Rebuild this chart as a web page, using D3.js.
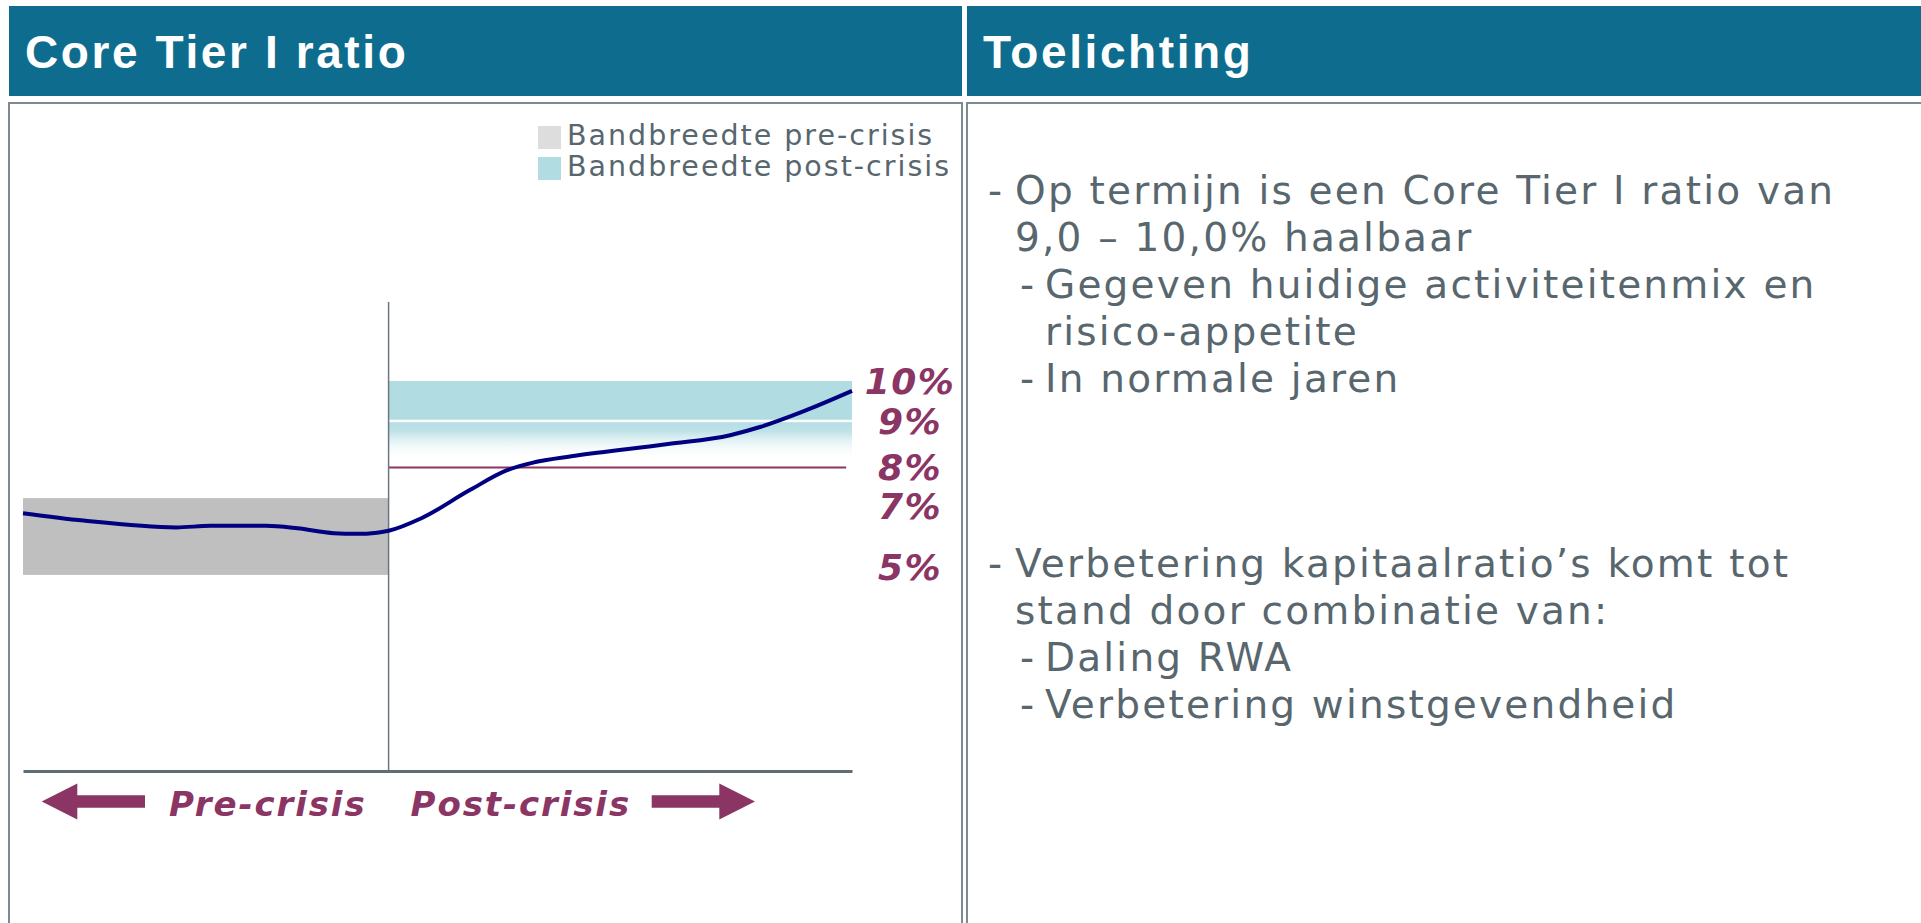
<!DOCTYPE html>
<html>
<head>
<meta charset="utf-8">
<script src="https://cdn.jsdelivr.net/npm/d3@7"></script>
<style>
  body { margin: 0; background: #fff; }
  svg { display: block; }
</style>
</head>
<body>
<svg id="chart" width="1921" height="923"></svg>
<script>
// ratio path, t = relative time (0..100), v = Core Tier I ratio in %
const periods = [0, 7.3, 18.5, 22.6, 29.3, 33.1, 37.5, 40.2, 42.7, 44.1, 48.0, 53.9, 58.4, 61.4, 66.6, 77.8, 85.3, 89.0, 94.2, 100]
const ratio = [6.76, 6.52, 6.30, 6.35, 6.35, 6.27, 6.11, 6.09, 6.13, 6.19, 6.59, 7.41, 7.93, 8.10, 8.25, 8.50, 8.69, 8.87, 9.24, 9.75]
const crisisT = 44.1
const preBand = [4.76, 7.2]
const postBand = [9, 10]
const postFade = [8.2, 9]
const minLine = 8
const minLineEnd = 99.3
const tickLabels = [10, 9, 8, 7, 5]
const legendLabels = ["Bandbreedte pre-crisis", "Bandbreedte post-crisis"]
const titles = ["Core Tier I ratio", "Toelichting"]
const notes1 = [
  { level: 0, dash: true, text: "Op termijn is een Core Tier I ratio van" },
  { level: 0, dash: false, text: "9,0 – 10,0% haalbaar" },
  { level: 1, dash: true, text: "Gegeven huidige activiteitenmix en" },
  { level: 1, dash: false, text: "risico-appetite" },
  { level: 1, dash: true, text: "In normale jaren" }
]
const notes2 = [
  { level: 0, dash: true, text: "Verbetering kapitaalratio’s komt tot" },
  { level: 0, dash: false, text: "stand door combinatie van:" },
  { level: 1, dash: true, text: "Daling RWA" },
  { level: 1, dash: true, text: "Verbetering winstgevendheid" }
]

const headerColor = "#0e6d8e"
const purple = "#8b3565"
const slate = "#58666e"
const border = "#7d8a91"

let svg = d3.select("#chart")

// gradient for the fading part of the post-crisis band
let defs = svg.append("defs")
let grad = defs.append("linearGradient")
  .attr("id", "fade").attr("x1", 0).attr("y1", 0).attr("x2", 0).attr("y2", 1)
grad.append("stop").attr("offset", "0%").attr("stop-color", "#b0dce2").attr("stop-opacity", 0.95)
grad.append("stop").attr("offset", "25%").attr("stop-color", "#b0dce2").attr("stop-opacity", 0.8)
grad.append("stop").attr("offset", "100%").attr("stop-color", "#ffffff").attr("stop-opacity", 0)

// headers
let headers = [{ x: 9, w: 953 }, { x: 967, w: 960 }]
svg.selectAll(".hdr")
  .data(headers)
  .enter()
  .append("rect")
  .attr("x", d => d.x).attr("y", 6)
  .attr("width", d => d.w).attr("height", 90)
  .attr("fill", headerColor)
svg.selectAll(".hdrText")
  .data(titles)
  .enter()
  .append("text")
  .attr("x", (d, i) => headers[i].x + 16)
  .attr("y", 68)
  .attr("fill", "#fff")
  .attr("font-family", "Liberation Sans, Arial, sans-serif")
  .attr("font-weight", "bold")
  .attr("font-size", "46px")
  .attr("letter-spacing", "2.6px")
  .text(d => d)

// panels
svg.selectAll(".panel")
  .data(headers)
  .enter()
  .append("rect")
  .attr("x", d => d.x).attr("y", 103)
  .attr("width", d => d.w).attr("height", 900)
  .attr("fill", "none")
  .attr("stroke", border)
  .attr("stroke-width", 2)

// scales
let x = d3.scaleLinear().domain([0, 100]).range([23, 852])
let y = d3.scaleLinear().domain([5, 7, 8, 9, 10]).range([567.5, 505.8, 467.5, 420.7, 381])
let plotTop = 302
let plotBottom = 771

let pane = svg.append("g")

// pre-crisis band
pane.append("rect")
  .attr("x", x(0)).attr("y", y(preBand[1]))
  .attr("width", x(crisisT) - x(0))
  .attr("height", y(preBand[0]) - y(preBand[1]))
  .attr("fill", "#bfbfbf")

// post-crisis band
pane.append("rect")
  .attr("x", x(crisisT)).attr("y", y(postBand[1]))
  .attr("width", x(100) - x(crisisT))
  .attr("height", y(postBand[0]) - y(postBand[1]) - 1)
  .attr("fill", "#b0dce2")
pane.append("rect")
  .attr("x", x(crisisT)).attr("y", y(postFade[1]) + 1.5)
  .attr("width", x(100) - x(crisisT))
  .attr("height", y(postFade[0]) - y(postFade[1]))
  .attr("fill", "url(#fade)")

// 8% minimum line
pane.append("line")
  .attr("x1", x(crisisT)).attr("x2", x(minLineEnd))
  .attr("y1", y(minLine)).attr("y2", y(minLine))
  .attr("stroke", purple)
  .attr("stroke-width", 2)

// crisis divider
pane.append("line")
  .attr("x1", x(crisisT)).attr("x2", x(crisisT))
  .attr("y1", plotTop).attr("y2", plotBottom)
  .attr("stroke", "#6b7780")
  .attr("stroke-width", 1.5)

// x axis baseline
let xg = pane.append("g")
  .attr("transform", `translate(0, ${plotBottom})`)
  .call(d3.axisBottom(x).ticks(0).tickSizeOuter(0))
xg.select(".domain").attr("stroke", "#5f6e76").attr("stroke-width", 3)

// ratio line
let line = d3.line()
  .x((d, i) => x(periods[i]))
  .y(d => y(d))
  .curve(d3.curveMonotoneX)
pane.append("path")
  .datum(ratio)
  .attr("d", line)
  .attr("fill", "none")
  .attr("stroke", "#000080")
  .attr("stroke-width", 4)
  .attr("stroke-linejoin", "round")

// percentage labels
pane.selectAll(".pct")
  .data(tickLabels)
  .enter()
  .append("text")
  .attr("x", 910)
  .attr("y", d => y(d))
  .attr("dy", "0.36em")
  .attr("text-anchor", "middle")
  .attr("fill", purple)
  .attr("font-family", "DejaVu Sans, sans-serif")
  .attr("font-weight", "bold")
  .attr("font-style", "italic")
  .attr("font-size", "36px")
  .attr("letter-spacing", "1.5px")
  .text(d => d + "%")

// legend
let legendColors = ["#dddddd", "#b0dce2"]
let lg = pane.selectAll(".legend")
  .data(legendLabels)
  .enter()
  .append("g")
  .attr("transform", (d, i) => `translate(538, ${126 + i * 31})`)
lg.append("rect")
  .attr("width", 23).attr("height", 23)
  .attr("fill", (d, i) => legendColors[i])
lg.append("text")
  .attr("x", 29).attr("y", 19)
  .attr("fill", slate)
  .attr("font-family", "DejaVu Sans, sans-serif")
  .attr("font-size", "28.5px")
  .attr("letter-spacing", "2px")
  .text(d => d)

// pre / post crisis arrows
let arrowY = 801.5
let labelFont = { family: "DejaVu Sans, sans-serif", size: "34px" }
pane.append("text")
  .attr("x", x(crisisT) - 22).attr("y", 815.5)
  .attr("text-anchor", "end")
  .attr("fill", purple)
  .attr("font-family", labelFont.family)
  .attr("font-weight", "bold").attr("font-style", "italic")
  .attr("font-size", labelFont.size)
  .attr("letter-spacing", "1.9px")
  .text("Pre-crisis")
pane.append("text")
  .attr("x", x(crisisT) + 22).attr("y", 815.5)
  .attr("fill", purple)
  .attr("font-family", labelFont.family)
  .attr("font-weight", "bold").attr("font-style", "italic")
  .attr("font-size", labelFont.size)
  .attr("letter-spacing", "1.9px")
  .text("Post-crisis")

function arrow(tip, base, tail, cy) {
  // tip -> head base -> shaft end, works both directions
  let p = d3.path()
  p.moveTo(tip, cy)
  p.lineTo(base, cy - 18)
  p.lineTo(base, cy - 6.3)
  p.lineTo(tail, cy - 6.3)
  p.lineTo(tail, cy + 6.3)
  p.lineTo(base, cy + 6.3)
  p.lineTo(base, cy + 18)
  p.closePath()
  return p.toString()
}
pane.append("path").attr("d", arrow(41.7, 77.3, 145, arrowY)).attr("fill", purple)
pane.append("path").attr("d", arrow(755, 719.3, 651.7, arrowY)).attr("fill", purple)

// toelichting text
function drawNotes(lines, top) {
  let g = svg.append("g")
    .attr("fill", slate)
    .attr("font-family", "DejaVu Sans, sans-serif")
    .attr("font-size", "39px")
    .attr("letter-spacing", "2.2px")
  let rows = g.selectAll("g")
    .data(lines)
    .enter()
    .append("g")
    .attr("transform", (d, i) => `translate(0, ${top + i * 47})`)
  rows.filter(d => d.dash)
    .append("text")
    .attr("x", d => 988 + d.level * 32)
    .text("-")
  rows.append("text")
    .attr("x", d => 1015 + d.level * 30)
    .text(d => d.text)
}
drawNotes(notes1, 204)
drawNotes(notes2, 577)
</script>
</body>
</html>
